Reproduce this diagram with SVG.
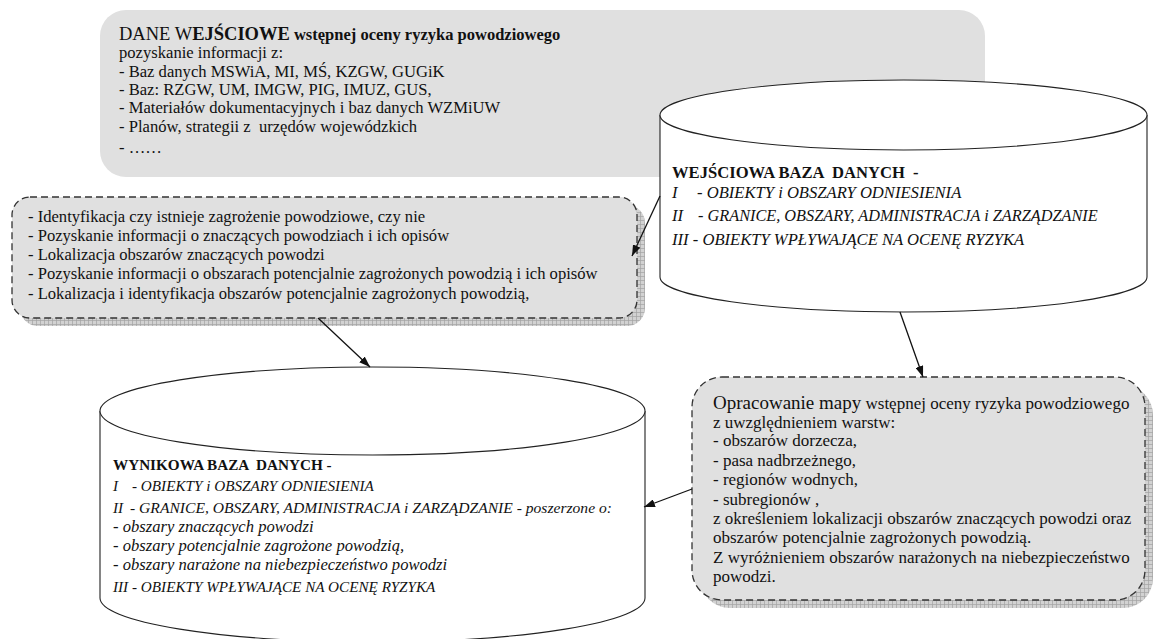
<svg xmlns="http://www.w3.org/2000/svg" width="1155" height="639" viewBox="0 0 1155 639">
<style>
text{font-family:"Liberation Serif","Times New Roman",serif;fill:#111;font-size:16.6px}
.b{font-weight:bold}
.i{font-style:italic}
.bot{font-size:15.2px}
.rb{font-size:17px}
.box{fill:#e0e0e0;stroke:#333;stroke-width:1.3;stroke-dasharray:7 4}
.cyl{fill:#fff;stroke:#222;stroke-width:1.1}
.conn{stroke:#111;stroke-width:1.3;fill:none;marker-end:url(#ah)}
</style>
<defs>
<pattern id="grid" width="4" height="4" patternUnits="userSpaceOnUse"><rect width="4" height="4" fill="#d2d2d2"/><path d="M0 0.5H4M0.5 0V4" stroke="#a3a3a3" stroke-width="0.7"/></pattern>
<marker id="ah" markerUnits="userSpaceOnUse" markerWidth="11" markerHeight="8" refX="11" refY="4" orient="auto"><path d="M0 0L11 4L0 8z" fill="#111"/></marker>
</defs>

<g id="dane-wejsciowe">
<rect x="100" y="10" width="885" height="167" rx="26" fill="#e0e0e0"/>
<text x="119" y="40"><tspan font-size="18.5">DANE W</tspan><tspan class="b" font-size="18.5">EJŚCIOWE</tspan><tspan class="b" font-size="16.5"> wstępnej oceny ryzyka powodziowego</tspan></text>
<text x="119" y="58">pozyskanie informacji z:</text>
<text x="119" y="77">- Baz danych MSWiA, MI, MŚ, KZGW, GUGiK</text>
<text x="119" y="95">- Baz: RZGW, UM, IMGW, PIG, IMUZ, GUS,</text>
<text x="119" y="113">- Materiałów dokumentacyjnych i baz danych WZMiUW</text>
<text x="119" y="132" xml:space="preserve">- Planów, strategii z  urzędów wojewódzkich</text>
<text x="119" y="153">- ……</text>
</g>

<g id="identyfikacja">
<rect x="20" y="205" width="625" height="121" rx="18" fill="url(#grid)"/>
<rect class="box" x="12" y="197" width="625" height="121" rx="18"/>
<text x="28" y="222">- Identyfikacja czy istnieje zagrożenie powodziowe, czy nie</text>
<text x="28" y="241">- Pozyskanie informacji o znaczących powodziach i ich opisów</text>
<text x="28" y="260">- Lokalizacja obszarów znaczących powodzi</text>
<text x="28" y="279">- Pozyskanie informacji o obszarach potencjalnie zagrożonych powodzią i ich opisów</text>
<text x="28" y="299">- Lokalizacja i identyfikacja obszarów potencjalnie zagrożonych powodzią,</text>
</g>

<g id="wejsciowa-baza">
<path class="cyl" d="M660 115V277A243.5 35 0 0 0 1147 277V115"/>
<ellipse class="cyl" cx="903.5" cy="115" rx="243.5" ry="35"/>
<text x="672" y="178" class="b" xml:space="preserve">WEJŚCIOWA BAZA  DANYCH  -</text>
<text x="672" y="198" class="i">I</text><text x="697" y="198" class="i">- OBIEKTY i OBSZARY ODNIESIENIA</text>
<text x="672" y="221" class="i">II</text><text x="698" y="221" class="i" style="font-size:16.3px">- GRANICE, OBSZARY, ADMINISTRACJA i ZARZĄDZANIE</text>
<text x="672" y="245" class="i">III - OBIEKTY WPŁYWAJĄCE NA OCENĘ RYZYKA</text>
</g>

<g id="wynikowa-baza">
<path class="cyl" d="M100 411V598A272.5 44 0 0 0 645 598V411"/>
<ellipse class="cyl" cx="372.5" cy="411" rx="272.5" ry="44"/>
<text x="113" y="470" class="b bot" xml:space="preserve">WYNIKOWA BAZA  DANYCH -</text>
<text x="113" y="491" class="i bot">I</text><text x="132" y="491" class="i bot">- OBIEKTY i OBSZARY ODNIESIENIA</text>
<text x="113" y="513" class="i bot">II</text><text x="130" y="513" class="i" style="font-size:15.6px">- GRANICE, OBSZARY, ADMINISTRACJA i ZARZĄDZANIE - poszerzone o:</text>
<text x="113" y="532" class="i">- obszary znaczących powodzi</text>
<text x="113" y="551" class="i">- obszary potencjalnie zagrożone powodzią,</text>
<text x="113" y="570" class="i">- obszary narażone na niebezpieczeństwo powodzi</text>
<text x="113" y="592" class="i bot">III - OBIEKTY WPŁYWAJĄCE NA OCENĘ RYZYKA</text>
</g>

<g id="opracowanie-mapy">
<rect x="700" y="385" width="453" height="223" rx="30" fill="url(#grid)"/>
<rect class="box" x="692" y="377" width="453" height="223" rx="30"/>
<text x="713" y="409" class="rb"><tspan font-size="19">Opracowanie mapy</tspan><tspan> wstępnej oceny ryzyka powodziowego</tspan></text>
<text x="713" y="428" class="rb">z uwzględnieniem warstw:</text>
<text x="713" y="446" class="rb">- obszarów dorzecza,</text>
<text x="713" y="466" class="rb">- pasa nadbrzeżnego,</text>
<text x="713" y="485" class="rb">- regionów wodnych,</text>
<text x="713" y="505" class="rb">- subregionów ,</text>
<text x="713" y="524" class="rb">z określeniem lokalizacji obszarów znaczących powodzi oraz</text>
<text x="713" y="543" class="rb">obszarów potencjalnie zagrożonych powodzią.</text>
<text x="713" y="563" class="rb">Z wyróżnieniem obszarów narażonych na niebezpieczeństwo</text>
<text x="713" y="582" class="rb">powodzi.</text>
</g>

<g id="connectors">
<line class="conn" x1="660" y1="196" x2="632" y2="256"/>
<line class="conn" x1="318" y1="318" x2="370" y2="367"/>
<line class="conn" x1="900" y1="312" x2="923" y2="377"/>
<line class="conn" x1="692" y1="489" x2="644" y2="507"/>
</g>
</svg>
